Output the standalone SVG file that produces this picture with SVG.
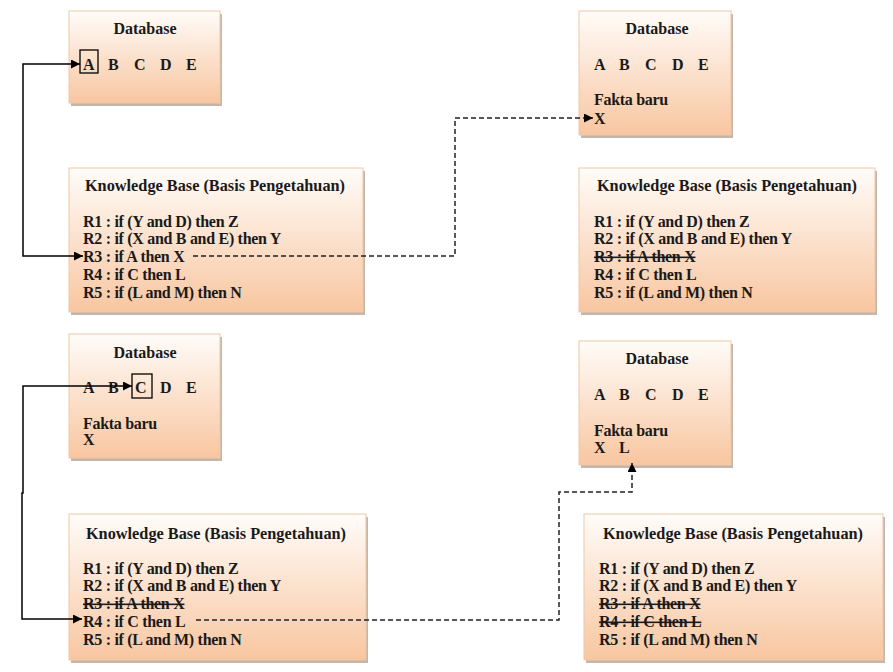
<svg xmlns="http://www.w3.org/2000/svg" width="893" height="672" viewBox="0 0 893 672">
<defs>
<linearGradient id="g" x1="0" y1="0" x2="0" y2="1">
<stop offset="0" stop-color="#fffcf9"/>
<stop offset="1" stop-color="#f8c6a0"/>
</linearGradient>
<marker id="ah" viewBox="0 0 10 10" refX="10" refY="5" markerWidth="9" markerHeight="9" markerUnits="userSpaceOnUse" orient="auto-start-reverse">
<path d="M0,0 L10,5 L0,10 z" fill="#000"/>
</marker>
</defs>
<style>
.box{fill:url(#g);stroke:#f0c7a6;stroke-width:1}
.sh{fill:#c4b6ab}
text{font-family:'Liberation Serif','DejaVu Serif',serif;font-weight:700;font-size:16px;fill:#1a1a1a;letter-spacing:-0.3px}
.t{text-anchor:middle;letter-spacing:0}
.k{font-size:16.3px}
.s{text-decoration:line-through}
.c{fill:none;stroke:#000;stroke-width:1.5}
.d{fill:none;stroke:#222;stroke-width:1.5;stroke-dasharray:5,3}
.hl{fill:none;stroke:#000;stroke-width:1.3}
</style>
<rect width="893" height="672" fill="#fff"/>

<g id="db1">
<rect class="sh" x="71" y="14" width="151" height="92"/>
<rect class="box" x="69" y="11" width="151" height="92"/>
<text class="t" x="145" y="34">Database</text>
<text x="83" y="70">A</text><text x="108" y="70">B</text><text x="134" y="70">C</text><text x="160" y="70">D</text><text x="186" y="70">E</text>
<rect class="hl" x="80" y="50" width="18" height="23"/>
</g>

<g id="kb1">
<rect class="sh" x="71" y="171" width="294" height="144"/>
<rect class="box" x="69" y="168" width="294" height="144"/>
<text class="t k" x="215" y="191">Knowledge Base (Basis Pengetahuan)</text>
<text x="83" y="227">R1 : if (Y and D) then Z</text>
<text x="83" y="244">R2 : if (X and B and E) then Y</text>
<text x="83" y="262">R3 : if A then X</text>
<text x="83" y="280">R4 : if C then L</text>
<text x="83" y="298">R5 : if (L and M) then N</text>
</g>

<g id="db2">
<rect class="sh" x="581" y="14" width="152" height="124"/>
<rect class="box" x="579" y="11" width="152" height="124"/>
<text class="t" x="657" y="34">Database</text>
<text x="594" y="70">A</text><text x="619" y="70">B</text><text x="645" y="70">C</text><text x="672" y="70">D</text><text x="698" y="70">E</text>
<text x="594" y="105">Fakta baru</text>
<text x="594" y="124">X</text>
</g>

<g id="kb2">
<rect class="sh" x="581" y="171" width="296" height="144"/>
<rect class="box" x="579" y="168" width="296" height="144"/>
<text class="t k" x="727" y="191">Knowledge Base (Basis Pengetahuan)</text>
<text x="594" y="227">R1 : if (Y and D) then Z</text>
<text x="594" y="244">R2 : if (X and B and E) then Y</text>
<text class="s" x="594" y="262">R3 : if A then X</text>
<text x="594" y="280">R4 : if C then L</text>
<text x="594" y="298">R5 : if (L and M) then N</text>
</g>

<g id="db3">
<rect class="sh" x="71" y="337" width="151" height="124"/>
<rect class="box" x="69" y="334" width="151" height="124"/>
<text class="t" x="145" y="358">Database</text>
<text x="83" y="393">A</text><text x="108" y="393">B</text><text x="135" y="393">C</text><text x="160" y="393">D</text><text x="186" y="393">E</text>
<rect class="hl" x="132" y="374" width="20" height="24"/>
<text x="83" y="429">Fakta baru</text>
<text x="83" y="445">X</text>
</g>

<g id="kb3">
<rect class="sh" x="71" y="517" width="297" height="146"/>
<rect class="box" x="69" y="514" width="297" height="146"/>
<text class="t k" x="216" y="539">Knowledge Base (Basis Pengetahuan)</text>
<text x="83" y="574">R1 : if (Y and D) then Z</text>
<text x="83" y="591">R2 : if (X and B and E) then Y</text>
<text class="s" x="83" y="609">R3 : if A then X</text>
<text x="83" y="627">R4 : if C then L</text>
<text x="83" y="645">R5 : if (L and M) then N</text>
</g>

<g id="db4">
<rect class="sh" x="581" y="344" width="152" height="124"/>
<rect class="box" x="579" y="341" width="152" height="124"/>
<text class="t" x="657" y="364">Database</text>
<text x="594" y="400">A</text><text x="619" y="400">B</text><text x="645" y="400">C</text><text x="672" y="400">D</text><text x="698" y="400">E</text>
<text x="594" y="436">Fakta baru</text>
<text x="594" y="453">X</text><text x="619" y="453">L</text>
</g>

<g id="kb4">
<rect class="sh" x="586" y="517" width="299" height="146"/>
<rect class="box" x="584" y="514" width="299" height="146"/>
<text class="t k" x="733" y="539">Knowledge Base (Basis Pengetahuan)</text>
<text x="599" y="574">R1 : if (Y and D) then Z</text>
<text x="599" y="591">R2 : if (X and B and E) then Y</text>
<text class="s" x="599" y="609">R3 : if A then X</text>
<text class="s" x="599" y="627">R4 : if C then L</text>
<text x="599" y="645">R5 : if (L and M) then N</text>
</g>

<g id="connectors">
<path class="c" d="M80,64 H23 V256 H83" marker-start="url(#ah)" marker-end="url(#ah)"/>
<path class="d" d="M193,256 H455 V118 H593" marker-end="url(#ah)"/>
<path class="c" d="M132,386 H23 V493 H22 V619 H82" marker-end="url(#ah)" marker-start="url(#ah)"/>
<path class="d" d="M196,620 H559 V492 H632 V463" marker-end="url(#ah)"/>
</g>
</svg>
